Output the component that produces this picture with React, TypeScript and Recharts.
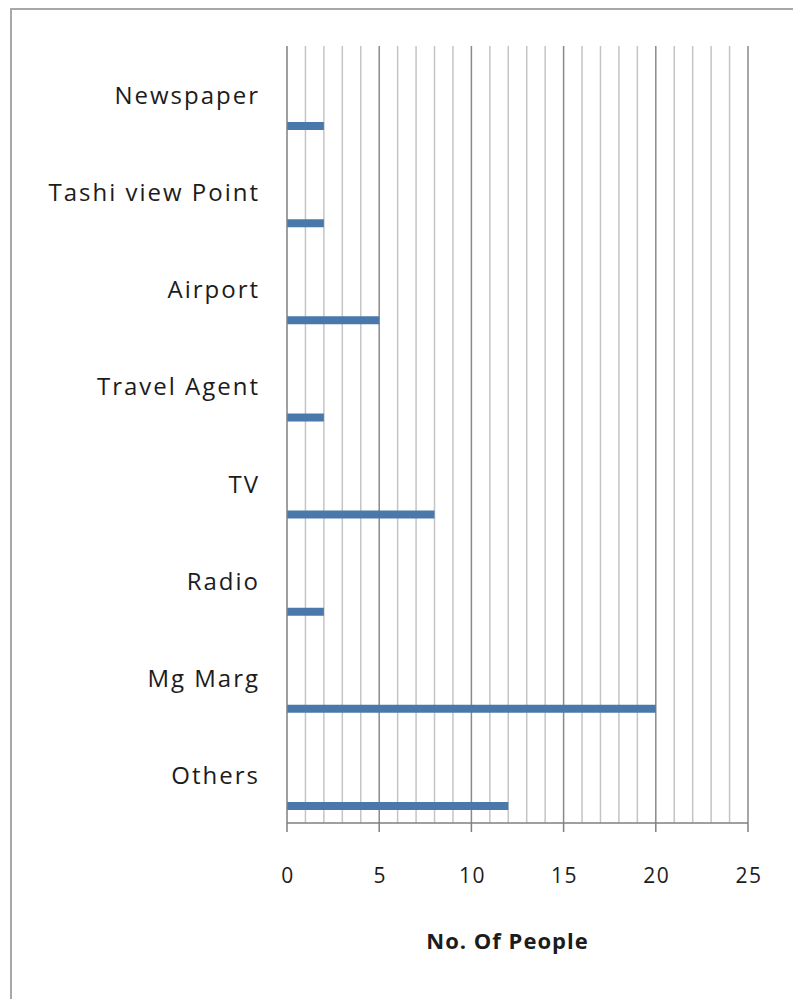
import React from 'react';
import { BarChart, Bar, XAxis, YAxis, CartesianGrid, Label, Rectangle } from 'recharts';

const categories = ['Newspaper', 'Tashi view Point', 'Airport', 'Travel Agent', 'TV', 'Radio', 'Mg Marg', 'Others'];
const people = [2, 2, 5, 2, 8, 2, 20, 12];
const xTicks = [0, 5, 10, 15, 20, 25];
const minorGrid = [1, 2, 3, 4, 6, 7, 8, 9, 11, 12, 13, 14, 16, 17, 18, 19, 21, 22, 23, 24];
const majorGrid = [5, 10, 15, 20, 25];
const axisTitle = 'No. Of People';

const data = categories.map((name, i) => ({ name, people: people[i] }));

const FONT = '"Open Sans", "DejaVu Sans", sans-serif';
const TEXT = '#1c1c1c';
const BAR = '#4a78ab';

const YTick = (props: any) => {
  const { x, y, payload } = props;
  return (
    <text x={x - 27} y={y} textAnchor="end" dominantBaseline="central" fontFamily={FONT} fontSize={24} letterSpacing={2} fill={TEXT}>
      {payload.value}
    </text>
  );
};

const XTick = (props: any) => {
  const { x, y, payload } = props;
  return (
    <text x={x + 1} y={y + 43} textAnchor="middle" dominantBaseline="central" fontFamily={FONT} fontSize={21} letterSpacing={1.5} fill={TEXT}>
      {payload.value}
    </text>
  );
};

const TitleLabel = (props: any) => {
  const vb = props.viewBox || {};
  return (
    <text x={vb.x + vb.width / 2 - 10} y={vb.y + 117} textAnchor="middle" dominantBaseline="central" fontFamily={FONT} fontSize={22} fontWeight={700} letterSpacing={1} fill={TEXT}>
      {axisTitle}
    </text>
  );
};

const LowBar = (props: any) => {
  const { x, y, width, height } = props;
  return <Rectangle x={x} y={y + 31} width={width} height={height} fill={BAR} />;
};

const makeGen = (values: number[]) => (args: any) => {
  const { xAxis, offset } = args;
  if (xAxis && typeof xAxis.scale === 'function') {
    return values.map((v) => xAxis.scale(v));
  }
  return values.map((v) => offset.left + (v / 25) * offset.width);
};

export default function App() {
  return (
    <div style={{ position: 'absolute', left: 0, top: 0, width: 793, height: 999, overflow: 'hidden', background: '#fff' }}>
      <div style={{ position: 'absolute', left: 10, top: 8, width: 800, height: 1000, borderLeft: '2px solid #a8a8a8', borderTop: '2px solid #a8a8a8' }} />
      <div style={{ position: 'absolute', left: 0, top: 0 }}>
        <BarChart width={793} height={999} data={data} layout="vertical" margin={{ top: 46, right: 45, bottom: 56, left: 0 }}>
          <CartesianGrid horizontal={false} vertical stroke="#c4c4c4" strokeWidth={1.5} verticalCoordinatesGenerator={makeGen(minorGrid)} />
          <CartesianGrid horizontal={false} vertical stroke="#8a8a8a" strokeWidth={1.5} verticalCoordinatesGenerator={makeGen(majorGrid)} />
          <XAxis
            type="number"
            domain={[0, 25]}
            ticks={xTicks}
            interval={0}
            height={120}
            tickSize={9}
            tickMargin={0}
            tick={<XTick />}
            axisLine={{ stroke: '#7f7f7f', strokeWidth: 1.5 }}
            tickLine={{ stroke: '#7f7f7f', strokeWidth: 1.5 }}
          >
            <Label content={<TitleLabel />} />
          </XAxis>
          <YAxis
            type="category"
            dataKey="name"
            width={287}
            tickSize={0}
            tickMargin={0}
            tick={<YTick />}
            interval={0}
            axisLine={{ stroke: '#7f7f7f', strokeWidth: 1.5 }}
            tickLine={false}
          />
          <Bar dataKey="people" barSize={8} fill={BAR} shape={<LowBar />} isAnimationActive={false} />
        </BarChart>
      </div>
    </div>
  );
}
